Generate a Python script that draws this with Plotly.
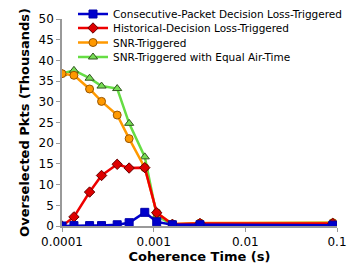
import plotly.graph_objects as go

coherence_time = [0.0001, 0.000135, 0.0002, 0.00027, 0.0004, 0.00054, 0.0008, 0.00108, 0.0016, 0.0032, 0.09]

consecutive = [0.0, 0.1, 0.1, 0.1, 0.3, 0.8, 3.3, 1.0, 0.3, 0.3, 0.2]
historical = [0.0, 2.2, 8.2, 12.2, 14.9, 14.0, 14.1, 3.2, 0.4, 0.6, 0.6]
snr = [36.8, 36.4, 33.1, 30.1, 26.8, 21.1, 14.1, 3.2, 0.5, 0.7, 0.8]
snr_equal = [36.8, 37.6, 35.7, 33.8, 33.2, 24.8, 16.7, 2.5, 0.3, 0.6, 0.8]

names = [
    "Consecutive-Packet Decision Loss-Triggered",
    "Historical-Decision Loss-Triggered",
    "SNR-Triggered",
    "SNR-Triggered with Equal Air-Time",
]
series = [consecutive, historical, snr, snr_equal]
line_colors = ["#0000CC", "#EE0000", "#FF9900", "#66DD44"]
marker_colors = ["#0000CC", "#DD0000", "#FF9900", "#77DD55"]
marker_lines = ["#0000AA", "#660000", "#995500", "#335522"]
symbols = ["square", "diamond", "circle", "triangle-up"]
sizes = [8, 8, 8, 8]
legend_ids = ["legend", "legend2", "legend3", "legend4"]

font = "DejaVu Sans, Verdana, sans-serif"

fig = go.Figure()
for i in [3, 2, 1, 0]:
    fig.add_trace(go.Scatter(
        x=coherence_time, y=series[i], name=names[i], mode="lines+markers",
        line=dict(color=line_colors[i], width=2.5),
        marker=dict(symbol=symbols[i], size=sizes[i], color=marker_colors[i],
                    line=dict(color=marker_lines[i], width=1)),
        legend=legend_ids[i],
    ))

# page body has an 8px default margin: figure is offset by (8, 8) in the window
OFF = 8
W, H = 358 - OFF, 270 - OFF
PL, PR, PT, PB = 62, 337, 19, 226  # plot area in window pixels
legend_y = [14, 28, 42.5, 57]
layout_legends = {}
for i, lid in enumerate(legend_ids):
    layout_legends[lid] = dict(
        xref="paper", yref="paper",
        x=(73 - PL) / (PR - PL), xanchor="left",
        y=1 - (legend_y[i] - PT) / (PB - PT), yanchor="middle",
        bgcolor="rgba(0,0,0,0)", borderwidth=0,
        font=dict(family=font, size=10.5, color="#000000"),
        itemwidth=30,
    )

fig.update_layout(
    template="none",
    width=W, height=H,
    margin=dict(l=PL - OFF, r=358 - PR, t=PT - OFF, b=270 - PB, pad=0, autoexpand=False),
    paper_bgcolor="white", plot_bgcolor="white",
    showlegend=True,
    font=dict(family=font, size=12, color="#000000"),
    xaxis=dict(
        type="log", range=[-4, -1], automargin=False,
        tickvals=[0.0001, 0.001, 0.01, 0.1],
        ticktext=["0.0001", "0.001", "0.01", "0.1"],
        showgrid=False, zeroline=False,
        showline=True, linecolor="#999999", linewidth=1.5,
        ticks="outside", ticklen=4, tickcolor="#999999",
        tickfont=dict(family=font, size=12),
        title=dict(text="<b>Coherence Time (s)</b>", font=dict(family=font, size=13), standoff=4),
    ),
    yaxis=dict(
        range=[0, 50], automargin=False,
        tickvals=[0, 5, 10, 15, 20, 25, 30, 35, 40, 45, 50],
        showgrid=False, zeroline=False,
        showline=True, linecolor="#999999", linewidth=1.5,
        ticks="outside", ticklen=4, tickcolor="#999999",
        tickfont=dict(family=font, size=12),
        title=dict(text="<b>Overselected Pkts (Thousands)</b>", font=dict(family=font, size=13), standoff=6),
    ),
    **layout_legends,
)

fig.write_html("out.html", config={"displayModeBar": False})
